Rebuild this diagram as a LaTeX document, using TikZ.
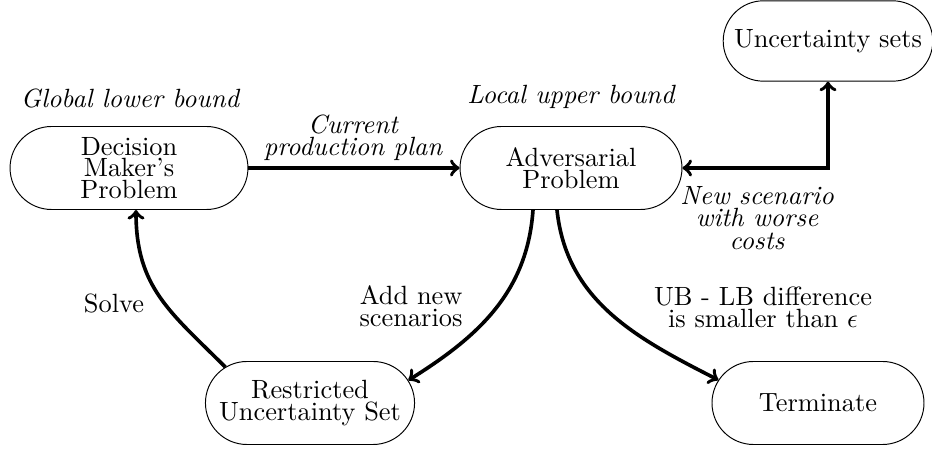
\documentclass[tikz,border=0pt]{standalone}
\usetikzlibrary{shapes.misc,calc}
\begin{document}
\begin{tikzpicture}[x=0.4132pt,y=-0.4132pt,
  box/.style={draw,rounded rectangle,inner sep=0pt,minimum height=34.3pt,align=center,font=\fontsize{10.9}{9}\selectfont},
  lab/.style={align=center,font=\fontsize{10.9}{9}\selectfont},
  ilab/.style={align=center,font=\fontsize{10.9}{9.2}\selectfont\itshape},
  conn/.style={line width=1.5pt,->}]
\useasboundingbox (0,0) rectangle (932,451);
\node[box,minimum width=98.3pt] (dm) at (129,168) {Decision\\Maker's\\Problem};
\node[box,minimum width=91.7pt] (adv) at (571,168) {Adversarial\\Problem};
\node[box,minimum width=86.6pt,minimum height=33.2pt] (unc) at (828,41) {Uncertainty sets};
\node[box,minimum width=86.4pt] (res) at (310,403) {Restricted\\Uncertainty Set};
\node[box,minimum width=87.6pt] (term) at (818,403) {Terminate};

\node[ilab] (glb) at (130,99) {Global lower bound};
\node[ilab] (lub) at (571,97) {Local upper bound};
\node[ilab] (cpp) at (353,138) {Current\\production plan};
\node[ilab] (nsw) at (757,218) {New scenario\\with worse\\costs};
\node[lab,align=right,anchor=east] (ans) at (471,306) {Add new\\scenarios};
\node[lab] (ubl) at (763,307) {UB - LB difference\\is smaller than $\epsilon$};
\node[lab] (slv) at (114,303) {Solve};

\draw[conn] (dm.east) -- (adv.west);
\draw[line width=1.5pt,<->] (adv.east) -| (unc.south);
\draw[conn] ($(adv.south)+(-38,0)$) to[out=-94,in=32] (res.13);
\draw[conn] ($(adv.south)+(-14,0)$) to[out=-84,in=153] (term.167);
\draw[conn] (res.157) to[out=135,in=-90,looseness=1.1] ($(dm.south)+(7,0)$);
\end{tikzpicture}
\end{document}
